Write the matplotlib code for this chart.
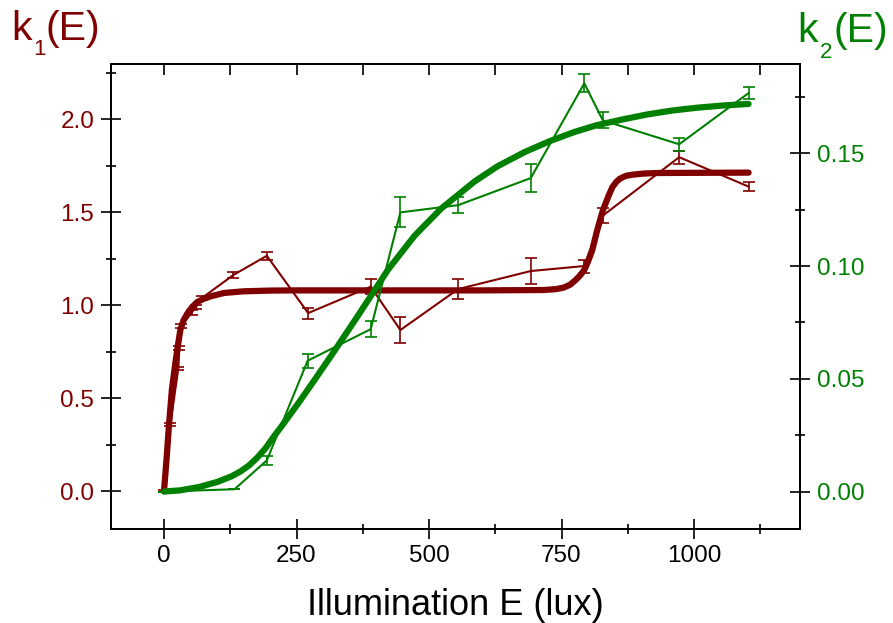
import matplotlib
matplotlib.use("agg")
import matplotlib.pyplot as plt
from matplotlib.ticker import MultipleLocator

plt.rcParams['font.family'] = ['Liberation Sans', 'DejaVu Sans']

RED = '#800000'
GREEN = '#008000'

# k1 measurements (left axis)
E_k1 = [0, 12, 27, 29, 33, 52, 60, 72, 131, 194, 272, 390, 446, 555, 692, 793, 828, 972, 1103]
k1 = [0, 0.36, 0.66, 0.77, 0.89, 0.96, 0.99, 1.04, 1.163, 1.266, 0.958, 1.10, 0.867, 1.087,
      1.184, 1.211, 1.482, 1.796, 1.638]
k1_err = [0.005, 0.008, 0.01, 0.01, 0.012, 0.012, 0.01, 0.012, 0.015, 0.022, 0.03, 0.04, 0.07,
          0.055, 0.068, 0.035, 0.04, 0.035, 0.025]

# k1 fitted curve
E_k1_fit = [0, 5, 9.5, 15, 22, 26, 31, 37, 44, 53, 63, 75, 88, 113, 150, 200, 250, 400, 600,
            717, 740, 754, 766, 776, 785, 793, 800, 808, 817, 828, 839, 846, 854, 860, 867,
            873, 887, 905, 930, 1000, 1103]
k1_fit = [0, 0.18, 0.36, 0.55, 0.70, 0.78, 0.87, 0.92, 0.955, 0.99, 1.018, 1.035, 1.048, 1.066,
          1.075, 1.079, 1.08, 1.08, 1.08, 1.082, 1.087, 1.095, 1.11, 1.134, 1.16, 1.19, 1.235,
          1.296, 1.40, 1.51, 1.59, 1.635, 1.665, 1.68, 1.69, 1.697, 1.703, 1.708, 1.711,
          1.712, 1.713]

# k2 measurements (right axis)
E_k2 = [0, 133, 194, 271, 390, 446, 555, 692, 793, 828, 972, 1103]
k2 = [0, 0.001, 0.0138, 0.058, 0.072, 0.1238, 0.127, 0.139, 0.181, 0.1646, 0.154, 0.1767]
k2_err = [0, 0, 0.002, 0.003, 0.0035, 0.0067, 0.0037, 0.0061, 0.004, 0.0035, 0.003, 0.0026]

# k2 fitted curve
E_k2_fit = [0, 30, 66, 100, 128, 145, 160, 175, 191, 206, 222, 253, 285, 322, 366, 423, 473,
            523, 586, 629, 680, 729, 775, 817, 865, 911, 960, 1005, 1055, 1103]
k2_fit = [0, 0.0005, 0.002, 0.0042, 0.0068, 0.009, 0.0115, 0.0148, 0.019, 0.024, 0.029, 0.039,
          0.0498, 0.0625, 0.078, 0.0985, 0.1135, 0.1255, 0.1375, 0.1442, 0.1505, 0.1555,
          0.1595, 0.1625, 0.165, 0.1672, 0.169, 0.1702, 0.1712, 0.1719]

fig = plt.figure(figsize=(8.93, 6.23), dpi=100)
ax1 = fig.add_axes([111 / 893, 1 - 528.5 / 623, 689 / 893, 464.5 / 623])
ax2 = ax1.twinx()

ax1.errorbar(E_k1, k1, yerr=k1_err, color=RED, lw=1.5, capsize=4, capthick=1.2, elinewidth=1.2)
ax1.plot(E_k1_fit, k1_fit, color=RED, lw=4.5, solid_capstyle='round', solid_joinstyle='round')

ax2.errorbar(E_k2, k2, yerr=k2_err, color=GREEN, lw=1.5, capsize=4, capthick=1.2, elinewidth=1.2)
ax2.plot(E_k2_fit, k2_fit, color=GREEN, lw=4.5, solid_capstyle='round', solid_joinstyle='round')

ax1.set_xlim(-100, 1200)
ax1.set_ylim(-0.2, 2.297)
ax2.set_ylim(-0.0164, 0.1896)

ax1.xaxis.set_major_locator(MultipleLocator(250))
ax1.xaxis.set_minor_locator(MultipleLocator(125))
ax1.yaxis.set_major_locator(MultipleLocator(0.5))
ax1.yaxis.set_minor_locator(MultipleLocator(0.25))
ax2.yaxis.set_major_locator(MultipleLocator(0.05))
ax2.yaxis.set_minor_locator(MultipleLocator(0.025))
ax1.yaxis.set_major_formatter(lambda v, p: f'{v:.1f}')
ax2.yaxis.set_major_formatter(lambda v, p: f'{v:.2f}')

for a in (ax1, ax2):
    for s in a.spines.values():
        s.set_linewidth(1.3)

ax1.tick_params(axis='both', which='major', direction='inout', length=14, width=1.2,
                labelsize=17.5, pad=5)
ax1.tick_params(axis='both', which='minor', direction='inout', length=7, width=1.2)
ax1.tick_params(axis='y', labelcolor=RED)
ax2.tick_params(axis='y', which='major', direction='inout', length=14, width=1.2,
                labelsize=17.5, labelcolor=GREEN, pad=5)
ax2.tick_params(axis='y', which='minor', direction='inout', length=7, width=1.2)

top = ax1.secondary_xaxis('top')
top.xaxis.set_major_locator(MultipleLocator(125))
top.tick_params(direction='in', length=8, width=1.2, labeltop=False)
top.spines['top'].set_linewidth(1.3)

fig.text(455.5 / 893, 1 - 615 / 623, 'Illumination E (lux)', ha='center', va='baseline',
         fontsize=26)

# axis titles with lowered subscripts
def title(x_k, x_sub, x_rest, base, sub_base, label, color):
    fig.text(x_k / 893, 1 - base / 623, 'k', color=color, fontsize=29.5, va='baseline')
    fig.text(x_sub / 893, 1 - sub_base / 623, label, color=color, fontsize=16, va='baseline')
    fig.text(x_rest / 893, 1 - base / 623, '(E)', color=color, fontsize=29.5, va='baseline')

title(11, 33, 46, 40, 55, '1', RED)
title(797, 820, 834, 42, 58, '2', GREEN)

fig.savefig('out.png', dpi=100)
plt.close(fig)
